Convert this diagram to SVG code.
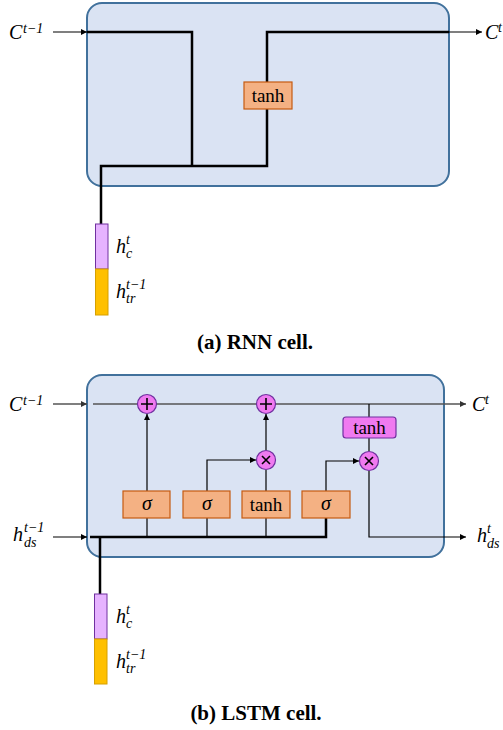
<svg xmlns="http://www.w3.org/2000/svg" width="503" height="730" viewBox="0 0 503 730">
<defs>
<marker id="ah" viewBox="0 0 10 10" refX="10" refY="5" markerWidth="6" markerHeight="6" orient="auto" markerUnits="userSpaceOnUse"><path d="M0,0 L10,5 L0,10 z" fill="#000"/></marker>
<marker id="ahg" viewBox="0 0 10 10" refX="10" refY="5" markerWidth="6" markerHeight="6" orient="auto" markerUnits="userSpaceOnUse"><path d="M0,0 L10,5 L0,10 z" fill="#333"/></marker>
</defs>
<style>
.cell{fill:#dae3f3;stroke:#41719c;stroke-width:2}
.ob{fill:#f4b183;stroke:#c55a11;stroke-width:1.2}
.pb{fill:#f07af0;stroke:#7030a0;stroke-width:1.2}
.thick{fill:none;stroke:#000;stroke-width:2.5}
.thin{fill:none;stroke:#000;stroke-width:1.2}
.gl{fill:none;stroke:#555;stroke-width:1.5}
.m{font-family:"Liberation Serif","DejaVu Serif",serif;font-style:italic;font-size:20px;fill:#000}
.ms{font-family:"Liberation Serif","DejaVu Serif",serif;font-style:italic;font-size:14px;fill:#000}
.t{font-family:"Liberation Serif","DejaVu Serif",serif;font-size:19px;fill:#000;text-anchor:middle}
.cap{font-family:"Liberation Serif","DejaVu Serif",serif;font-weight:bold;font-size:21px;fill:#000;text-anchor:middle}
.op{fill:#f07af0;stroke:#7030a0;stroke-width:1.2}
.sym{fill:none;stroke:#000;stroke-width:1.6}
</style>

<!-- RNN cell -->
<g id="rnn-cell"><rect class="cell" x="87" y="3" width="362" height="183" rx="15"/></g>
<g id="rnn-connectors">
<line class="thin" x1="53" y1="32" x2="87" y2="32" marker-end="url(#ah)"/>
<polyline class="thick" points="87,32 192,32 192,166"/>
<polyline class="thick" points="101,224 101,166 267,166 267,109"/>
<polyline class="thick" points="267,82 267,32 449,32"/>
<line class="thin" x1="449" y1="32" x2="482" y2="32" marker-end="url(#ah)"/>
</g>
<g id="rnn-tanh"><rect class="ob" x="244" y="82" width="48" height="27"/><text class="t" x="268" y="102">tanh</text></g>
<g id="rnn-input">
<rect x="95.5" y="224" width="12.5" height="45" fill="#e6b3ff" stroke="#7030a0" stroke-width="1"/>
<rect x="95.5" y="269" width="12.5" height="46" fill="#ffc000" stroke="#d6a000" stroke-width="1"/>
</g>
<g id="rnn-labels">
<text class="m" x="9" y="39">C</text><text class="ms" x="23" y="33">t−1</text>
<text class="m" x="485" y="39">C</text><text class="ms" x="498" y="32">t</text>
<text class="m" x="116" y="253">h</text><text class="ms" x="126" y="244">t</text><text class="ms" x="126" y="258">c</text>
<text class="m" x="116" y="298">h</text><text class="ms" x="126" y="289">t−1</text><text class="ms" x="126" y="303">tr</text>
<text class="cap" x="255" y="349">(a) RNN cell.</text>
</g>

<!-- LSTM cell -->
<g id="lstm-cell"><rect class="cell" x="87" y="375" width="357" height="182" rx="15"/></g>
<g id="lstm-connectors">
<line class="gl" x1="53" y1="404" x2="87" y2="404" marker-end="url(#ahg)"/>
<line class="gl" x1="93" y1="404" x2="466" y2="404" marker-end="url(#ahg)"/>
<line class="thin" x1="53" y1="537" x2="87" y2="537" marker-end="url(#ah)"/>
<polyline class="thick" points="90,537 326,537 326,518"/>
<line class="thick" x1="100" y1="537" x2="100" y2="594"/>
<line class="thin" x1="147" y1="537" x2="147" y2="518"/>
<line class="thin" x1="147" y1="491" x2="147" y2="414" marker-end="url(#ah)"/>
<line class="thin" x1="207" y1="537" x2="207" y2="518"/>
<polyline class="thin" points="207,491 207,460 256,460" marker-end="url(#ah)"/>
<line class="thin" x1="266" y1="537" x2="266" y2="518"/>
<line class="thin" x1="266" y1="491" x2="266" y2="470"/>
<line class="thin" x1="266" y1="450" x2="266" y2="414" marker-end="url(#ah)"/>
<polyline class="thin" points="326,491 326,461 359,461" marker-end="url(#ah)"/>
<line class="thin" x1="369" y1="404" x2="369" y2="417"/>
<line class="thin" x1="369" y1="438" x2="369" y2="451"/>
<polyline class="thin" points="369,471 369,537 466,537" marker-end="url(#ah)"/>
</g>
<g id="lstm-sigma1"><rect class="ob" x="123" y="491" width="47" height="27"/><text class="m" x="147" y="510" text-anchor="middle">σ</text></g>
<g id="lstm-sigma2"><rect class="ob" x="183" y="491" width="47" height="27"/><text class="m" x="207" y="510" text-anchor="middle">σ</text></g>
<g id="lstm-tanh1"><rect class="ob" x="242" y="491" width="48" height="27"/><text class="t" x="266" y="511">tanh</text></g>
<g id="lstm-sigma3"><rect class="ob" x="302" y="491" width="48" height="27"/><text class="m" x="326" y="510" text-anchor="middle">σ</text></g>
<g id="lstm-tanh2"><rect class="pb" x="343" y="417" width="53" height="21" rx="3"/><text class="t" x="369.5" y="434">tanh</text></g>
<g id="lstm-plus1"><circle class="op" cx="147" cy="404" r="9.5"/><path class="sym" d="M141,404 H153 M147,398 V410"/></g>
<g id="lstm-plus2"><circle class="op" cx="266" cy="404" r="9.5"/><path class="sym" d="M260,404 H272 M266,398 V410"/></g>
<g id="lstm-mul1"><circle class="op" cx="266" cy="460" r="9.5"/><path class="sym" d="M262,456 L270,464 M270,456 L262,464"/></g>
<g id="lstm-mul2"><circle class="op" cx="369" cy="461" r="9.5"/><path class="sym" d="M365,457 L373,465 M373,457 L365,465"/></g>
<g id="lstm-input">
<rect x="94.5" y="594" width="12.5" height="45" fill="#e6b3ff" stroke="#7030a0" stroke-width="1"/>
<rect x="94.5" y="639" width="12.5" height="45" fill="#ffc000" stroke="#d6a000" stroke-width="1"/>
</g>
<g id="lstm-labels">
<text class="m" x="9" y="411">C</text><text class="ms" x="23" y="405">t−1</text>
<text class="m" x="472" y="411">C</text><text class="ms" x="485" y="404">t</text>
<text class="m" x="13" y="541">h</text><text class="ms" x="24" y="532">t−1</text><text class="ms" x="24" y="547">ds</text>
<text class="m" x="477" y="542">h</text><text class="ms" x="487" y="533">t</text><text class="ms" x="487" y="548">ds</text>
<text class="m" x="116" y="623">h</text><text class="ms" x="126" y="614">t</text><text class="ms" x="126" y="628">c</text>
<text class="m" x="116" y="668">h</text><text class="ms" x="126" y="659">t−1</text><text class="ms" x="126" y="673">tr</text>
<text class="cap" x="256" y="720">(b) LSTM cell.</text>
</g>
</svg>
